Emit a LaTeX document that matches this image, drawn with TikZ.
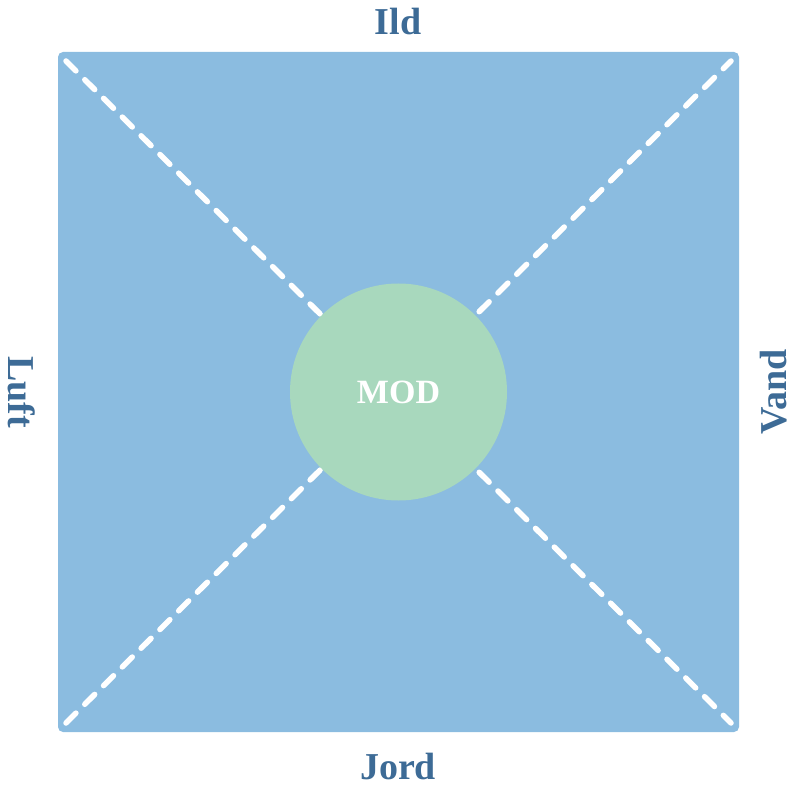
\documentclass[tikz,border=0pt]{standalone}
\usepackage{fontspec}
\setmainfont{Liberation Serif}
\definecolor{felt}{HTML}{8BBCE0}
\definecolor{kerne}{HTML}{A8D8BD}
\definecolor{skrift}{HTML}{3D6B96}

\begin{document}
\begin{tikzpicture}[x=1pt, y=-1pt,
felt/.style   = {fill=felt, rounded corners=5pt},
skel/.style   = {draw=white, line width=5.5pt, line cap=round,
                 dash pattern=on 14pt off 12.5pt},
kerne/.style  = {circle, fill=kerne, minimum size=217pt, inner sep=0pt,
                 text=white, font=\fontsize{34}{40}\selectfont\bfseries},
element/.style = {text=skrift, inner sep=0pt,
                  font=\fontsize{38}{44}\selectfont\bfseries}
                   ]
\useasboundingbox (0,0) rectangle (795,791);
\fill[felt] (58,52) rectangle (739,732);
\coordinate (nv) at (66,61);
\coordinate (no) at (731,61);
\coordinate (sv) at (66,723);
\coordinate (so) at (731,723);
\draw[skel] (nv) -- (so);
\draw[skel] (sv) -- (no);
\node[kerne] (mod) at (398.5,392) {MOD};

\node[element] (ild)  at (398,22)  {Ild};
\node[element] (jord) at (398,766) {Jord};
\node[element, rotate=-90] (luft) at (22,392)  {Luft};
\node[element, rotate=90]  (vand) at (774,392) {Vand};

\end{tikzpicture}
\end{document}
